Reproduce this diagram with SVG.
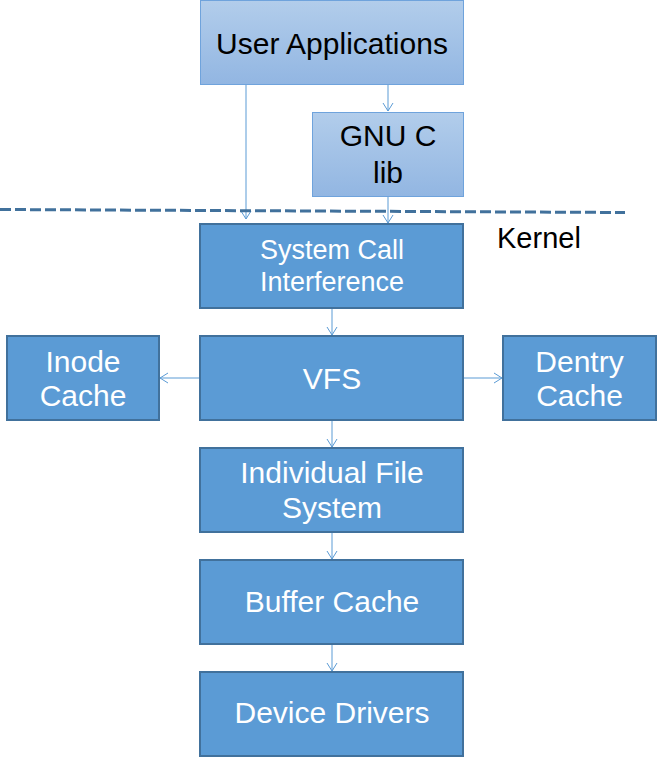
<svg xmlns="http://www.w3.org/2000/svg" width="657" height="757" viewBox="0 0 657 757">
<defs>
<linearGradient id="lg" x1="0" y1="0" x2="0" y2="1">
<stop offset="0" stop-color="#b2cdeb"/>
<stop offset="1" stop-color="#92b6e2"/>
</linearGradient>
<marker id="ah" markerWidth="12" markerHeight="12" refX="9" refY="6" orient="auto" markerUnits="userSpaceOnUse">
<path d="M1,1 L9,6 L1,11" fill="none" stroke="#5b9bd5" stroke-width="1"/>
</marker>
<style>
.top{fill:url(#lg);stroke:#6fa3dc;stroke-width:1}
.box{fill:#5b9bd5;stroke:#41719c;stroke-width:2}
.t{font-family:"Liberation Sans",Arial,sans-serif;text-anchor:middle;font-size:30px}
.dark{fill:#000}
.light{fill:#fff}
.c{stroke:#5b9bd5;stroke-width:1;fill:none;marker-end:url(#ah)}
</style>
</defs>
<rect width="657" height="757" fill="#fff"/>
<g id="connectors">
<line class="c" x1="246" y1="85" x2="246" y2="219"/>
<line class="c" x1="388" y1="85" x2="388" y2="111"/>
<line class="c" x1="388" y1="197" x2="388" y2="223"/>
<line class="c" x1="332" y1="309" x2="332" y2="335"/>
<line class="c" x1="200" y1="378" x2="160" y2="378"/>
<line class="c" x1="463" y1="378" x2="502" y2="378"/>
<line class="c" x1="332" y1="421" x2="332" y2="447"/>
<line class="c" x1="332" y1="533" x2="332" y2="559"/>
<line class="c" x1="332" y1="645" x2="332" y2="671"/>
</g>
<g id="kernel-boundary">
<line x1="0" y1="209.5" x2="625" y2="212.5" stroke="#41719c" stroke-width="3" stroke-dasharray="11,4"/>
<text class="t dark" x="497" y="248" style="text-anchor:start;font-size:29px">Kernel</text>
</g>
<g id="user-applications">
<rect class="top" x="200.5" y="0.5" width="263" height="84"/>
<text class="t dark" x="332" y="54">User Applications</text>
</g>
<g id="gnu-c-lib">
<rect class="top" x="312.5" y="112.5" width="151" height="84"/>
<text class="t dark" x="388" y="146">GNU C</text>
<text class="t dark" x="388" y="183">lib</text>
</g>
<g id="system-call">
<rect class="box" x="200" y="224" width="263" height="84"/>
<text class="t light" x="332" y="259" style="font-size:27px">System Call</text>
<text class="t light" x="332" y="291" style="font-size:27px">Interference</text>
</g>
<g id="inode-cache">
<rect class="box" x="7" y="336" width="152" height="84"/>
<text class="t light" x="83" y="372">Inode</text>
<text class="t light" x="83" y="406">Cache</text>
</g>
<g id="vfs">
<rect class="box" x="200" y="336" width="263" height="84"/>
<text class="t light" x="332" y="389">VFS</text>
</g>
<g id="dentry-cache">
<rect class="box" x="503" y="336" width="153" height="84"/>
<text class="t light" x="579.5" y="372">Dentry</text>
<text class="t light" x="579.5" y="406">Cache</text>
</g>
<g id="individual-fs">
<rect class="box" x="200" y="448" width="263" height="84"/>
<text class="t light" x="332" y="483">Individual File</text>
<text class="t light" x="332" y="518">System</text>
</g>
<g id="buffer-cache">
<rect class="box" x="200" y="560" width="263" height="84"/>
<text class="t light" x="332" y="612">Buffer Cache</text>
</g>
<g id="device-drivers">
<rect class="box" x="200" y="672" width="263" height="84"/>
<text class="t light" x="332" y="723">Device Drivers</text>
</g>
</svg>
